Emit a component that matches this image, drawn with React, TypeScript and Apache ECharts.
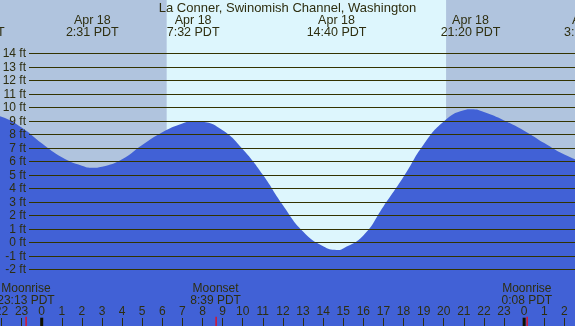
import React, { useEffect, useRef } from "react";
import * as echarts from "echarts";

const TITLE = "La Conner, Swinomish Channel, Washington";

// Tide height curve (hours since Apr 18 00:00 PDT, feet)
const tideHours = [-3, -2, -1, 0, 1, 2, 2.52, 3, 4, 5, 6, 7, 7.6, 8, 9, 10, 11, 12, 13, 14, 14.67, 15, 16, 17, 18, 19, 20, 21, 21.38, 22, 23, 24, 25, 26, 27];
const tideFeet = [9.55, 9.3, 8.5, 7.33, 6.3, 5.67, 5.52, 5.6, 6.15, 7.2, 8.15, 8.8, 8.98, 8.94, 8.3, 6.9, 5.0, 2.75, 0.8, -0.3, -0.57, -0.45, 0.5, 2.65, 4.85, 7.25, 8.95, 9.78, 9.85, 9.65, 9.03, 8.27, 7.35, 6.5, 5.9];

// High / low tide events
const tideEventDays = [17, 18, 18, 18, 18, 19];
const tideEventTimes = ["20:40", "2:31", "7:32", "14:40", "21:20", "3:18"];

// Moon events
const moonEventDays = [17, 18, 19];
const moonEventTimes = ["23:13", "8:39", "0:08"];
const moonEventNames = ["Moonrise", "Moonset", "Moonrise"];

// Sun
const sunriseTime = "6:13";
const sunsetTime = "20:07";

// Axis ticks
const hourTicks = [-2, -1, 0, 1, 2, 3, 4, 5, 6, 7, 8, 9, 10, 11, 12, 13, 14, 15, 16, 17, 18, 19, 20, 21, 22, 23, 24, 25, 26];
const midnightHours = [0, 24];
const feetMin = -2;
const feetMax = 14;

const toHour = (day: number, time: string) => {
  const [h, m] = time.split(":").map(Number);
  return (day - 18) * 24 + h + m / 60;
};

const FONT = "Liberation Sans, Arial, sans-serif";
const TXT = "#2e2e10";
const LINE = "#333300";
const NIGHT = "#b0c4de";
const DAY = "#ddf6fd";
const BLUE = "#4161d6";

export default function App() {
  const ref = useRef<HTMLDivElement>(null);
  useEffect(() => {
    if (!ref.current) return;
    const chart = echarts.init(ref.current, null, { renderer: "svg" });
    const X_MIN = -2.075;
    const X_MAX = 26.53;
    const tideData = tideHours.map((h, i) => [h, tideFeet[i]]);
    const tideEvents = tideEventDays.map((d, i) => [toHour(d, tideEventTimes[i]), i]);
    const moonEvents = moonEventDays.map((d, i) => [toHour(d, moonEventTimes[i]), i]);
    const sun = [[toHour(18, sunriseTime), toHour(18, sunsetTime)]];

    chart.setOption({
      animation: false,
      title: {
        text: TITLE,
        left: "center",
        top: 0,
        padding: [0, 0, 0, 0],
        textStyle: { fontSize: 13, fontWeight: "normal", color: TXT, fontFamily: FONT, lineHeight: 14 },
      },
      grid: [
        { left: 0, right: 0, top: 0, bottom: 0, show: true, backgroundColor: NIGHT, borderWidth: 0, containLabel: false, outerBoundsMode: "none" },
        { left: 29, right: 0, top: 53.3, bottom: 56.7, containLabel: false, outerBoundsMode: "none" },
      ],
      xAxis: [
        {
          gridIndex: 0,
          type: "value",
          min: X_MIN,
          max: X_MAX,
          position: "bottom",
          z: 5,
          axisLine: { show: false, onZero: false },
          splitLine: { show: false },
          axisTick: { show: true, inside: true, length: 8, customValues: hourTicks, lineStyle: { color: TXT, width: 1 } },
          axisLabel: {
            show: true,
            inside: true,
            margin: 9,
            customValues: hourTicks,
            formatter: (v: number) => String(((Math.round(v) % 24) + 24) % 24),
            color: TXT,
            fontSize: 12,
            fontFamily: FONT,
          },
        },
        { gridIndex: 1, type: "value", min: X_MIN, max: X_MAX, show: false, axisLine: { onZero: false } },
      ],
      yAxis: [
        { gridIndex: 0, type: "value", min: -6.2, max: 17.95, show: false },
        {
          gridIndex: 1,
          type: "value",
          min: feetMin,
          max: feetMax,
          interval: 1,
          z: 5,
          axisLine: { show: false, onZero: false },
          axisTick: { show: false },
          axisLabel: { formatter: "{value} ft", margin: 3, color: TXT, fontSize: 12, fontFamily: FONT },
          splitLine: { show: true, lineStyle: { color: LINE, width: 1 } },
        },
      ],
      series: [
        {
          type: "custom",
          xAxisIndex: 0,
          yAxisIndex: 0,
          z: 1,
          data: sun,
          renderItem: (params: any, api: any) => {
            const a = api.coord([api.value(0), 0]);
            const b = api.coord([api.value(1), 0]);
            const cs = params.coordSys;
            return {
              type: "rect",
              shape: { x: a[0], y: cs.y, width: b[0] - a[0], height: cs.height },
              style: { fill: DAY },
            };
          },
        },
        {
          type: "line",
          xAxisIndex: 0,
          yAxisIndex: 0,
          z: 2,
          data: tideData,
          smooth: 0.5,
          symbol: "none",
          lineStyle: { width: 0 },
          areaStyle: { color: BLUE, opacity: 1, origin: "start" },
        },
        {
          type: "custom",
          xAxisIndex: 0,
          yAxisIndex: 0,
          z: 6,
          data: tideEvents,
          renderItem: (params: any, api: any) => {
            const i = api.value(1);
            const p = api.coord([api.value(0), 0]);
            return {
              type: "text",
              x: p[0],
              y: 25.5,
              style: {
                text: `Apr ${tideEventDays[i]}\n${tideEventTimes[i]} PDT`,
                align: "center",
                verticalAlign: "middle",
                fill: TXT,
                fontSize: 12.5,
                fontFamily: FONT,
                lineHeight: 12,
              },
            };
          },
        },
        {
          type: "custom",
          xAxisIndex: 0,
          yAxisIndex: 0,
          z: 6,
          data: moonEvents,
          renderItem: (params: any, api: any) => {
            const i = api.value(1);
            const p = api.coord([api.value(0), 0]);
            const cs = params.coordSys;
            const bottom = cs.y + cs.height;
            return {
              type: "group",
              children: [
                {
                  type: "rect",
                  shape: { x: Math.round(p[0]) - 0.5, y: bottom - 9.3, width: 1.2, height: 9.3 },
                  style: { fill: "#ff0000" },
                },
                {
                  type: "text",
                  x: p[0],
                  y: bottom - 32,
                  style: {
                    text: `${moonEventNames[i]}\n${moonEventTimes[i]} PDT`,
                    align: "center",
                    verticalAlign: "middle",
                    fill: TXT,
                    fontSize: 12,
                    fontFamily: FONT,
                    lineHeight: 12,
                  },
                },
              ],
            };
          },
        },
        {
          type: "custom",
          xAxisIndex: 0,
          yAxisIndex: 0,
          z: 6,
          data: midnightHours.map((h) => [h, 0]),
          renderItem: (params: any, api: any) => {
            const p = api.coord([api.value(0), 0]);
            const cs = params.coordSys;
            const bottom = cs.y + cs.height;
            return {
              type: "rect",
              shape: { x: p[0] - 1.5, y: bottom - 8.3, width: 3, height: 8.3 },
              style: { fill: "#111100" },
            };
          },
        },
      ],
    });
    return () => chart.dispose();
  }, []);
  return <div ref={ref} style={{ position: "fixed", left: 0, top: 0, width: 575, height: 326 }} />;
}
